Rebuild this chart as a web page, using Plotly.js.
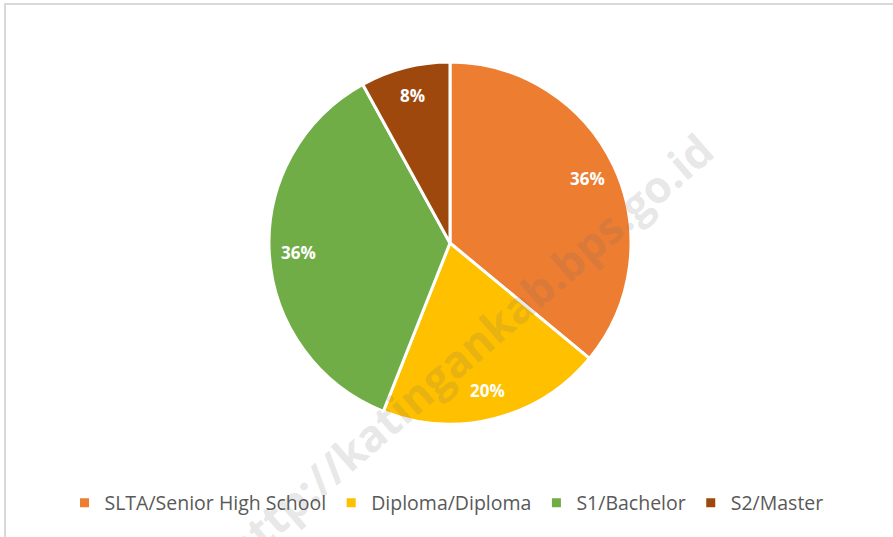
<!DOCTYPE html>
<html>
<head>
<meta charset="utf-8">
<script src="https://cdn.plot.ly/plotly-3.0.1.min.js"></script>
<style>
  body { margin: 0; background: #fff; }
  #frame { position: absolute; left: 4px; top: 3px; width: 900px; height: 540px;
           border-top: 2px solid #d9d9d9; border-left: 2px solid #d9d9d9; }
  #plotArea { position: absolute; left: 0; top: 0; width: 893px; height: 537px; }
</style>
</head>
<body>
<div id="frame"></div>
<div id="plotArea"></div>
<script>
// education level share
var labels = ['SLTA/Senior High School', 'Diploma/Diploma', 'S1/Bachelor', 'S2/Master'];
var shares = [36, 20, 36, 8];
var colors = ['#ED7D31', '#FFC000', '#70AD47', '#9E480E'];

var W = 893, H = 537;
var dom = {x: [0.3012, 0.7066], y: [0.2104, 0.8845]};

// percent labels sit near the outer edge of each slice, like the original
var cx = (dom.x[0] + dom.x[1]) / 2, cy = (dom.y[0] + dom.y[1]) / 2;
var rpx = Math.min((dom.x[1] - dom.x[0]) * W, (dom.y[1] - dom.y[0]) * H) / 2;
var total = shares.reduce(function (a, b) { return a + b; }, 0);
var cum = 0;
var pctLabels = shares.map(function (v) {
  var mid = (cum + v / 2) / total * 2 * Math.PI;
  cum += v;
  var r = rpx * 0.84;
  return {
    text: Math.round(v / total * 100) + '%',
    xref: 'paper', yref: 'paper',
    x: cx + r * Math.sin(mid) / W,
    y: cy + r * Math.cos(mid) / H,
    xanchor: 'center', yanchor: 'middle',
    showarrow: false,
    font: {family: 'Open Sans', size: 17, color: '#ffffff', weight: 'bold'}
  };
});

var trace = {
  type: 'pie',
  labels: labels,
  values: shares,
  sort: false,
  direction: 'clockwise',
  rotation: 0,
  marker: {colors: colors, line: {color: '#ffffff', width: 3}},
  textinfo: 'none',
  domain: dom,
  hoverinfo: 'label+percent'
};

var layout = {
  width: W,
  height: H,
  margin: {l: 0, r: 0, t: 0, b: 0},
  paper_bgcolor: 'rgba(0,0,0,0)',
  plot_bgcolor: 'rgba(0,0,0,0)',
  showlegend: true,
  legend: {
    orientation: 'h',
    x: 0.5, xanchor: 'center',
    y: 0.063, yanchor: 'middle',
    font: {family: 'Open Sans', size: 19.5, color: '#595959'},
    traceorder: 'normal'
  },
  annotations: pctLabels.concat([{
    text: 'http://katingankab.bps.go.id',
    xref: 'paper', yref: 'paper',
    x: 0.524, y: 0.35,
    xanchor: 'center', yanchor: 'middle',
    showarrow: false,
    textangle: -41,
    font: {family: 'Open Sans', size: 44, color: 'rgba(110,110,110,0.18)', weight: 'bold'}
  }])
};

Plotly.newPlot('plotArea', [trace], layout, {displayModeBar: false});
</script>
</body>
</html>
